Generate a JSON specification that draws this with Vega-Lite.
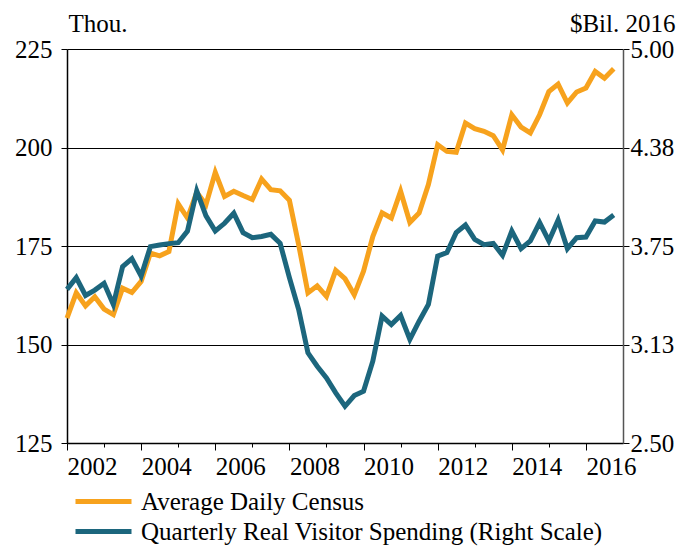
{
  "$schema": "https://vega.github.io/schema/vega-lite/v6.json",
  "width": 556,
  "height": 394,
  "autosize": {"type": "none"},
  "padding": {"left": 67, "top": 49, "right": 64, "bottom": 105},
  "config": {
    "font": "Liberation Serif",
    "view": {"stroke": null},
    "axis": {"labelFont": "Liberation Serif", "titleFont": "Liberation Serif", "labelFontSize": 25, "titleFontSize": 25, "labelColor": "#000", "titleColor": "#000", "titleFontWeight": "normal", "domainColor": "#000", "tickColor": "#000"},
    "legend": {"labelFont": "Liberation Serif", "labelFontSize": 25, "labelColor": "#000"}
  },
  "data": {"values": [
    {"t": 2002.00, "census": 156.7, "spend": 3.475},
    {"t": 2002.25, "census": 163.1, "spend": 3.549},
    {"t": 2002.50, "census": 159.8, "spend": 3.436},
    {"t": 2002.75, "census": 162.1, "spend": 3.470},
    {"t": 2003.00, "census": 159.0, "spend": 3.513},
    {"t": 2003.25, "census": 157.6, "spend": 3.379},
    {"t": 2003.50, "census": 164.3, "spend": 3.619},
    {"t": 2003.75, "census": 163.2, "spend": 3.670},
    {"t": 2004.00, "census": 166.0, "spend": 3.559},
    {"t": 2004.25, "census": 173.2, "spend": 3.746},
    {"t": 2004.50, "census": 172.5, "spend": 3.756},
    {"t": 2004.75, "census": 173.6, "spend": 3.765},
    {"t": 2005.00, "census": 185.7, "spend": 3.771},
    {"t": 2005.25, "census": 182.1, "spend": 3.845},
    {"t": 2005.50, "census": 188.6, "spend": 4.100},
    {"t": 2005.75, "census": 185.5, "spend": 3.941},
    {"t": 2006.00, "census": 193.7, "spend": 3.845},
    {"t": 2006.25, "census": 187.6, "spend": 3.894},
    {"t": 2006.50, "census": 188.9, "spend": 3.958},
    {"t": 2006.75, "census": 187.8, "spend": 3.835},
    {"t": 2007.00, "census": 186.8, "spend": 3.803},
    {"t": 2007.25, "census": 192.0, "spend": 3.810},
    {"t": 2007.50, "census": 189.3, "spend": 3.824},
    {"t": 2007.75, "census": 189.0, "spend": 3.767},
    {"t": 2008.00, "census": 186.6, "spend": 3.549},
    {"t": 2008.25, "census": 175.3, "spend": 3.347},
    {"t": 2008.50, "census": 163.1, "spend": 3.072},
    {"t": 2008.75, "census": 164.9, "spend": 2.987},
    {"t": 2009.00, "census": 162.2, "spend": 2.913},
    {"t": 2009.25, "census": 168.8, "spend": 2.818},
    {"t": 2009.50, "census": 166.7, "spend": 2.733},
    {"t": 2009.75, "census": 162.6, "spend": 2.801},
    {"t": 2010.00, "census": 168.6, "spend": 2.828},
    {"t": 2010.25, "census": 177.4, "spend": 3.019},
    {"t": 2010.50, "census": 183.4, "spend": 3.305},
    {"t": 2010.75, "census": 182.1, "spend": 3.252},
    {"t": 2011.00, "census": 188.9, "spend": 3.309},
    {"t": 2011.25, "census": 181.0, "spend": 3.157},
    {"t": 2011.50, "census": 183.4, "spend": 3.273},
    {"t": 2011.75, "census": 190.6, "spend": 3.379},
    {"t": 2012.00, "census": 200.7, "spend": 3.686},
    {"t": 2012.25, "census": 199.0, "spend": 3.708},
    {"t": 2012.50, "census": 198.8, "spend": 3.835},
    {"t": 2012.75, "census": 206.2, "spend": 3.883},
    {"t": 2013.00, "census": 204.8, "spend": 3.792},
    {"t": 2013.25, "census": 204.1, "spend": 3.758},
    {"t": 2013.50, "census": 203.0, "spend": 3.767},
    {"t": 2013.75, "census": 199.4, "spend": 3.691},
    {"t": 2014.00, "census": 208.3, "spend": 3.845},
    {"t": 2014.25, "census": 205.2, "spend": 3.733},
    {"t": 2014.50, "census": 203.7, "spend": 3.782},
    {"t": 2014.75, "census": 208.3, "spend": 3.899},
    {"t": 2015.00, "census": 214.2, "spend": 3.782},
    {"t": 2015.25, "census": 216.1, "spend": 3.915},
    {"t": 2015.50, "census": 211.3, "spend": 3.733},
    {"t": 2015.75, "census": 214.1, "spend": 3.803},
    {"t": 2016.00, "census": 215.1, "spend": 3.807},
    {"t": 2016.25, "census": 219.3, "spend": 3.909},
    {"t": 2016.50, "census": 217.6, "spend": 3.902},
    {"t": 2016.75, "census": 220.0, "spend": 3.947}
  ]},
  "encoding": {
    "x": {
      "field": "t", "type": "quantitative",
      "scale": {"domain": [2002, 2017], "nice": false, "zero": false},
      "axis": {
        "title": null, "grid": false,
        "values": [2002, 2003, 2004, 2005, 2006, 2007, 2008, 2009, 2010, 2011, 2012, 2013, 2014, 2015, 2016],
        "labelExpr": "datum.value % 2 == 0 ? format(datum.value, 'd') : ''",
        "labelAlign": "left", "labelPadding": 4, "labelOverlap": false, "labelFlush": false,
        "tickSize": {"condition": {"test": "datum.value % 2 == 0", "value": 7}, "value": 4},
        "domainWidth": 1.5
      }
    },
    "color": {
      "scale": {
        "domain": ["Average Daily Census", "Quarterly Real Visitor Spending (Right Scale)"],
        "range": ["#F7A21D", "#1C667D"]
      },
      "legend": {
        "title": null, "orient": "none", "legendX": 20, "legendY": 436, "direction": "vertical", "padding": 0,
        "symbolType": "M-2,0H2", "symbolStrokeWidth": 5, "symbolSize": 784, "symbolFillColor": "transparent", "labelLimit": 600,
        "rowPadding": -2, "labelOffset": 21
      }
    }
  },
  "layer": [
    {
      "mark": {"type": "line", "strokeWidth": 5, "strokeJoin": "miter"},
      "encoding": {
        "y": {
          "field": "census", "type": "quantitative",
          "scale": {"domain": [125, 225], "nice": false, "zero": false},
          "axis": {
            "title": "Thou.", "titleAngle": 0, "titleAlign": "left", "titleBaseline": "alphabetic", "titleX": 1, "titleY": -18,
            "values": [125, 150, 175, 200, 225], "grid": true, "gridColor": "#000", "gridWidth": 1.2, "gridOpacity": 1,
            "tickSize": 6, "labelPadding": 9, "domainWidth": 1.5
          }
        },
        "color": {"datum": "Average Daily Census"}
      }
    },
    {
      "mark": {"type": "line", "strokeWidth": 5, "strokeJoin": "miter"},
      "encoding": {
        "y": {
          "field": "spend", "type": "quantitative",
          "scale": {"domain": [2.5, 5.0], "nice": false, "zero": false},
          "axis": {
            "orient": "right", "title": "$Bil. 2016", "titleAngle": 0, "titleAlign": "right", "titleBaseline": "alphabetic", "titleX": 52, "titleY": -18,
            "values": [2.5, 3.125, 3.75, 4.375, 5.0], "format": ".2f", "grid": false,
            "tickSize": 6, "labelPadding": 1, "domainColor": "#555", "domainWidth": 1.5
          }
        },
        "color": {"datum": "Quarterly Real Visitor Spending (Right Scale)"}
      }
    }
  ],
  "resolve": {"scale": {"y": "independent"}}
}
